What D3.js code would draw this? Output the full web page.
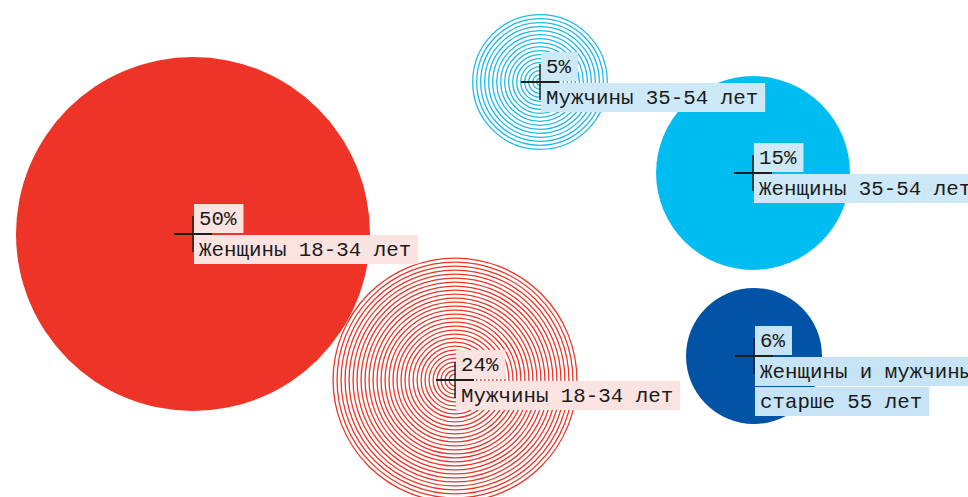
<!DOCTYPE html>
<meta charset='utf-8'>
<style>
  body { margin: 0; background: #fff; }
  svg { display: block; }
  text { font-family: 'Liberation Mono', 'DejaVu Sans Mono', monospace; font-size: 20.8px; fill: #1b1b1b; }
</style>
<div id='chart'></div>
<script src='https://d3js.org/d3.v7.min.js'></script>
<script>

  // audience groups and their share, %
  var groups = ['Женщины 18-34 лет', 'Мужчины 35-54 лет', 'Женщины 35-54 лет', 'Мужчины 18-34 лет', 'Женщины и мужчины старше 55 лет'];
  var shares = [50, 5, 15, 24, 6];
  // how each group label is broken into lines
  var labelLines = [
    ['Женщины 18-34 лет'],
    ['Мужчины 35-54 лет'],
    ['Женщины 35-54 лет'],
    ['Мужчины 18-34 лет'],
    ['Женщины и мужчины', 'старше 55 лет']
  ];

  // layout: bubble centres (in picture units) and look of each bubble
  var centres = [[193, 234], [540, 82], [753, 173], [455, 380], [754, 356]];
  var looks = [
    { fill: '#ee3427', rings: false, tag: '#fae3e0' },
    { fill: '#1cb9ea', rings: true,  tag: '#cde9f7' },
    { fill: '#00bdf1', rings: false, tag: '#cde9f7' },
    { fill: '#ee3427', rings: true,  tag: '#fae3e0' },
    { fill: '#0053a5', rings: false, tag: '#c6e4f6' }
  ];

  var width = 968, height = 497;

  var svg = d3.select('#chart')
    .append('svg')
      .attr('width', width)
      .attr('height', height);

  var x = d3.scaleLinear().domain([0, 968]).range([0, width]);
  var y = d3.scaleLinear().domain([0, 497]).range([0, height]);
  // area follows the share, with a floor so small groups stay readable
  var rScale = d3.scaleSqrt().domain([0, 50]).range([0, 177]);
  var r = function (v) { return Math.max(68, rScale(v)); };

  var data = groups.map(function (g, i) {
    return { name: g, share: shares[i], lines: labelLines[i], cx: x(centres[i][0]), cy: y(centres[i][1]), look: looks[i] };
  });

  // bubbles
  var bubbles = svg.append('g')
    .selectAll('g')
    .data(data)
    .enter()
    .append('g');

  bubbles.filter(function (d) { return !d.look.rings; })
    .append('circle')
      .attr('cx', function (d) { return d.cx; })
      .attr('cy', function (d) { return d.cy; })
      .attr('r', function (d) { return r(d.share); })
      .style('fill', function (d) { return d.look.fill; });

  bubbles.filter(function (d) { return d.look.rings; })
    .selectAll('circle')
    .data(function (d) {
      return d3.range(r(d.share) - 0.7, 2, -4).map(function (rr) { return { cx: d.cx, cy: d.cy, rr: rr, c: d.look.fill }; });
    })
    .enter()
    .append('circle')
      .attr('cx', function (d) { return d.cx; })
      .attr('cy', function (d) { return d.cy; })
      .attr('r', function (d) { return d.rr; })
      .style('fill', 'none')
      .style('stroke', function (d) { return d.c; })
      .style('stroke-width', 1.3);

  // labels on top of every bubble
  var rowH = 30, padL = 5, padR = 7;
  var labels = svg.append('g')
    .selectAll('g')
    .data(data)
    .enter()
    .append('g')
      .attr('transform', function (d) { return 'translate(' + d.cx + ',' + d.cy + ')'; });

  labels.each(function (d) {
    var g = d3.select(this);
    var rows = [{ t: d.share + '%', top: -rowH }].concat(d.lines.map(function (l, k) {
      return { t: l, top: 1 + k * rowH };
    }));
    rows.forEach(function (row) {
      var bg = g.append('rect')
        .attr('x', 1)
        .attr('y', row.top)
        .attr('height', rowH - 1)
        .style('fill', d.look.tag);
      var t = g.append('text')
        .attr('x', 1 + padL)
        .attr('y', row.top + 21)
        .text(row.t);
      bg.attr('width', t.node().getComputedTextLength() + padL + padR);
    });
    // crosshair
    g.append('line')
      .attr('x1', -19).attr('x2', 19)
      .attr('y1', 0).attr('y2', 0)
      .style('stroke', '#1e1e1e').style('stroke-width', 2);
    g.append('line')
      .attr('x1', 0).attr('x2', 0)
      .attr('y1', -18).attr('y2', 18)
      .style('stroke', '#1e1e1e').style('stroke-width', 1.5);
    g.selectAll('text').raise();
  });

</script>
